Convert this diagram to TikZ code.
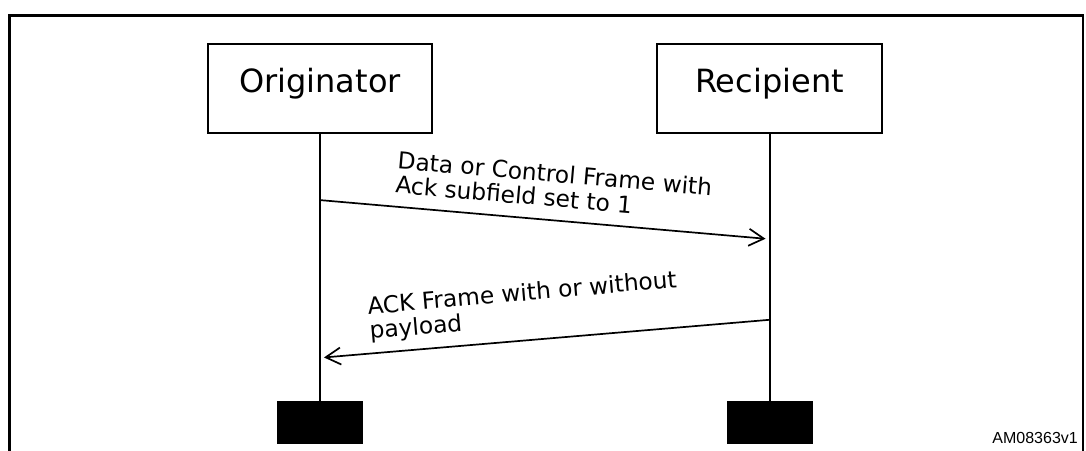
\documentclass[tikz,border=0pt]{standalone}
\usepackage{fontspec}
\setmainfont{DejaVu Sans}
\newfontfamily\tagfont{Liberation Sans}
\usetikzlibrary{positioning,arrows.meta}

\tikzset{
  entity/.style={draw, line width=2.2pt, minimum width=224pt, minimum height=89pt,
    inner sep=0pt, text height=24pt, text depth=15pt, font=\fontsize{32}{36}\selectfont},
  endbar/.style={fill=black, minimum width=86pt, minimum height=43pt, inner sep=0pt},
  lifeline/.style={line width=2pt},
  msg/.style={line width=1.7pt, shorten >=4pt,
    -{Straight Barb[length=15pt,width=17pt,line width=1.7pt]}},
  msglabel/.style={anchor=north west, align=left, inner sep=0pt,
    font=\fontsize{23.3}{24.5}\selectfont},
}

\begin{document}
\begin{tikzpicture}[x=1pt,y=1pt]
  \useasboundingbox (0,0) rectangle (1086,450);

  % Frame
  \draw[line width=2.5pt] (9.5,-5) -- (9.5,434.5) -- (1083,434.5) -- (1083,-5);

  % Define nodes
  \node[entity]                         (orig)    at (320,361.5)   {Originator};
  \node[entity, minimum width=225pt]    (recp)    at (769.5,361.5) {Recipient};
  \node[endbar, below=267pt of orig]    (origend) {};
  \node[endbar, below=267pt of recp]    (recpend) {};

  % Lifelines
  \draw[lifeline] (orig.south) -- (origend.north);
  \draw[lifeline] (recp.south) -- (recpend.north);

  % Message end points
  \path (orig.south) ++(0,-66)    coordinate (req-s);
  \path (recp.south) ++(0,-105)   coordinate (req-e);
  \path (recp.south) ++(0,-185.7) coordinate (ack-s);
  \path (orig.south) ++(0,-223.7) coordinate (ack-e);

  % Connect the nodes
  \draw[msg] (req-s) -- (req-e);
  \draw[msg] (ack-s) -- (ack-e);

  % Labels
  \node[msglabel, rotate=-5] (reqlabel) at (398.5,299.4)
    {Data or Control Frame with\\Ack subfield set to 1};
  \node[msglabel, rotate=5]  (acklabel) at (366.5,153.4)
    {ACK Frame with or without\\payload};
  \node[anchor=base east, inner sep=0pt, font=\tagfont\fontsize{16}{18}\selectfont]
    (figid) at (1078,7) {AM08363v1};

\end{tikzpicture}
\end{document}
